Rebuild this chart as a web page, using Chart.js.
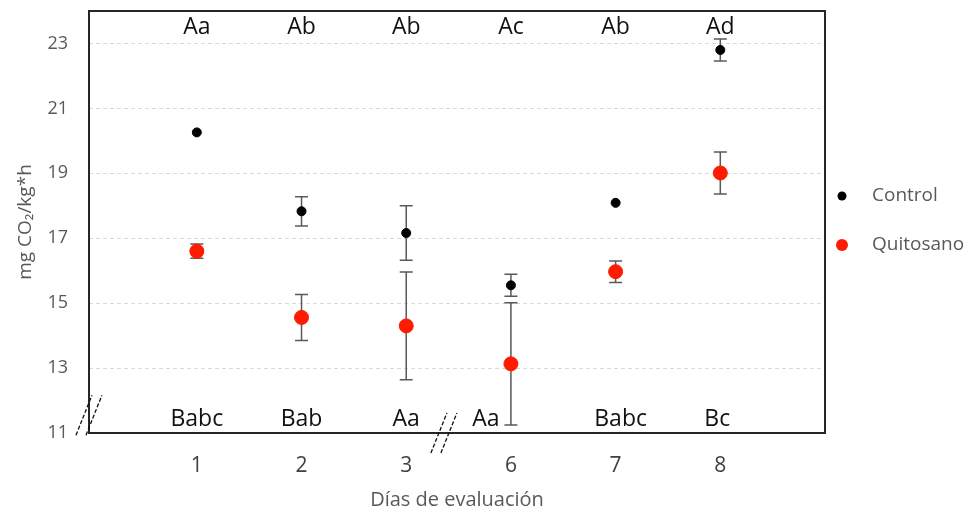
<!DOCTYPE html>
<html>
<head>
<meta charset="utf-8">
<script src="https://cdn.jsdelivr.net/npm/chart.js@4/dist/chart.umd.min.js"></script>
<style>
  html, body { margin: 0; padding: 0; background: #fff; }
  #wrap { width: 973px; height: 513px; }
</style>
</head>
<body>
<div id="wrap"><canvas id="chart" width="973" height="513"></canvas></div>
<script>
// Respiración (mg CO2/kg*h) por día de evaluación

const days = ["1", "2", "3", "6", "7", "8"];
const yTicks = [11, 13, 15, 17, 19, 21, 23];

const control = [20.26, 17.83, 17.16, 15.55, 18.09, 22.80];
const controlErr = [0, 0.45, 0.84, 0.34, 0, 0.34];

const quitosano = [16.60, 14.56, 14.30, 13.13, 15.97, 19.01];
const quitosanoErr = [0.22, 0.71, 1.66, 1.88, 0.33, 0.65];

const topLetters = ["Aa", "Ab", "Ab", "Ac", "Ab", "Ad"];
const bottomLetters = ["Babc", "Bab", "Aa", "Aa", "Babc", "Bc"];

const font = "'Open Sans', 'Noto Sans', sans-serif";

const toPoints = arr => arr.map((v, i) => ({ x: i + 1, y: v }));

// error bars, letters, breaks, frame and legend
const extras = {
  id: "extras",
  beforeDatasetsDraw(chart) {
    const { ctx, scales: { x, y } } = chart;
    ctx.save();
    ctx.strokeStyle = "#595959";
    ctx.lineWidth = 1.5;
    [[control, controlErr], [quitosano, quitosanoErr]].forEach(([vals, errs]) => {
      vals.forEach((v, i) => {
        if (!errs[i]) return;
        const px = x.getPixelForValue(i + 1);
        const top = y.getPixelForValue(v + errs[i]);
        const bot = y.getPixelForValue(v - errs[i]);
        ctx.beginPath();
        ctx.moveTo(px, top); ctx.lineTo(px, bot);
        ctx.moveTo(px - 6.5, top); ctx.lineTo(px + 6.5, top);
        ctx.moveTo(px - 6.5, bot); ctx.lineTo(px + 6.5, bot);
        ctx.stroke();
      });
    });
    ctx.restore();
  },
  afterDraw(chart) {
    const { ctx, chartArea: a, scales: { x, y } } = chart;
    ctx.save();

    // frame
    ctx.strokeStyle = "#262626";
    ctx.lineWidth = 2;
    ctx.strokeRect(a.left, a.top, a.right - a.left, a.bottom - a.top);

    // significance letters
    ctx.fillStyle = "#111";
    ctx.font = "23px " + font;
    ctx.textAlign = "center";
    ctx.textBaseline = "middle";
    topLetters.forEach((t, i) => {
      ctx.fillText(t, x.getPixelForValue(i + 1), a.top + 16);
    });
    const nudge = [0, 0, 0, -25, 5, -3];
    bottomLetters.forEach((t, i) => {
      ctx.fillText(t, x.getPixelForValue(i + 1) + nudge[i], a.bottom - 14);
    });

    // axis breaks
    ctx.strokeStyle = "#111";
    ctx.lineWidth = 1.3;
    ctx.setLineDash([4, 2]);
    const slash = (cx, cy) => {
      [-5, 5].forEach(dx => {
        ctx.beginPath();
        ctx.moveTo(cx + dx - 8, cy + 20);
        ctx.lineTo(cx + dx + 8, cy - 20);
        ctx.stroke();
      });
    };
    slash(a.left, y.getPixelForValue(11.55));
    slash(x.getPixelForValue(3.36), a.bottom);
    ctx.setLineDash([]);

    // legend
    const mid = (a.top + a.bottom) / 2;
    const items = [
      { label: "Control", color: "#000", r: 4.5, y: mid - 26 },
      { label: "Quitosano", color: "#ff1a00", r: 6, y: mid + 23 }
    ];
    ctx.textAlign = "left";
    ctx.font = "19px " + font;
    items.forEach(it => {
      ctx.fillStyle = it.color;
      ctx.beginPath();
      ctx.arc(a.right + 17, it.y, it.r, 0, Math.PI * 2);
      ctx.fill();
      ctx.fillStyle = "#595959";
      ctx.fillText(it.label, a.right + 47, it.y);
    });

    ctx.restore();
  }
};

new Chart(document.getElementById("chart"), {
  type: "scatter",
  data: {
    datasets: [
      {
        label: "Control",
        data: toPoints(control),
        backgroundColor: "#000",
        borderColor: "#000",
        pointRadius: 4.5,
        pointHoverRadius: 4.5
      },
      {
        label: "Quitosano",
        data: toPoints(quitosano),
        backgroundColor: "#ff1a00",
        borderColor: "#ff1a00",
        pointRadius: 7,
        pointHoverRadius: 7
      }
    ]
  },
  options: {
    responsive: false,
    animation: false,
    layout: { padding: { top: 11, right: 148, left: 0, bottom: 0 } },
    plugins: {
      legend: { display: false },
      tooltip: { enabled: false }
    },
    scales: {
      x: {
        type: "linear",
        min: -0.03,
        max: 7,
        afterBuildTicks: s => { s.ticks = days.map((d, i) => ({ value: i + 1 })); },
        afterFit: s => { s.height = 80; s.paddingLeft = 0; s.paddingRight = 0; },
        grid: { display: false },
        border: { display: false },
        ticks: {
          padding: 12,
          color: "#404040",
          font: { family: font, size: 21 },
          callback: v => days[v - 1]
        },
        title: {
          display: true,
          text: "Días de evaluación",
          color: "#595959",
          font: { family: font, size: 20 },
          padding: { top: 0, bottom: 1 }
        }
      },
      y: {
        min: 11,
        max: 24,
        afterBuildTicks: s => { s.ticks = yTicks.map(v => ({ value: v })); },
        afterFit: s => { s.width = 89; s.paddingTop = 0; s.paddingBottom = 0; },
        grid: { color: "#d9d9d9", lineWidth: 1, drawTicks: false },
        border: { display: false, dash: [4, 3] },
        ticks: {
          padding: 21,
          color: "#595959",
          font: { family: font, size: 18 }
        },
        title: {
          display: true,
          text: "mg CO₂/kg*h",
          color: "#595959",
          font: { family: font, size: 19 },
          padding: { top: 14, bottom: 0 }
        }
      }
    }
  },
  plugins: [extras]
});
</script>
</body>
</html>
